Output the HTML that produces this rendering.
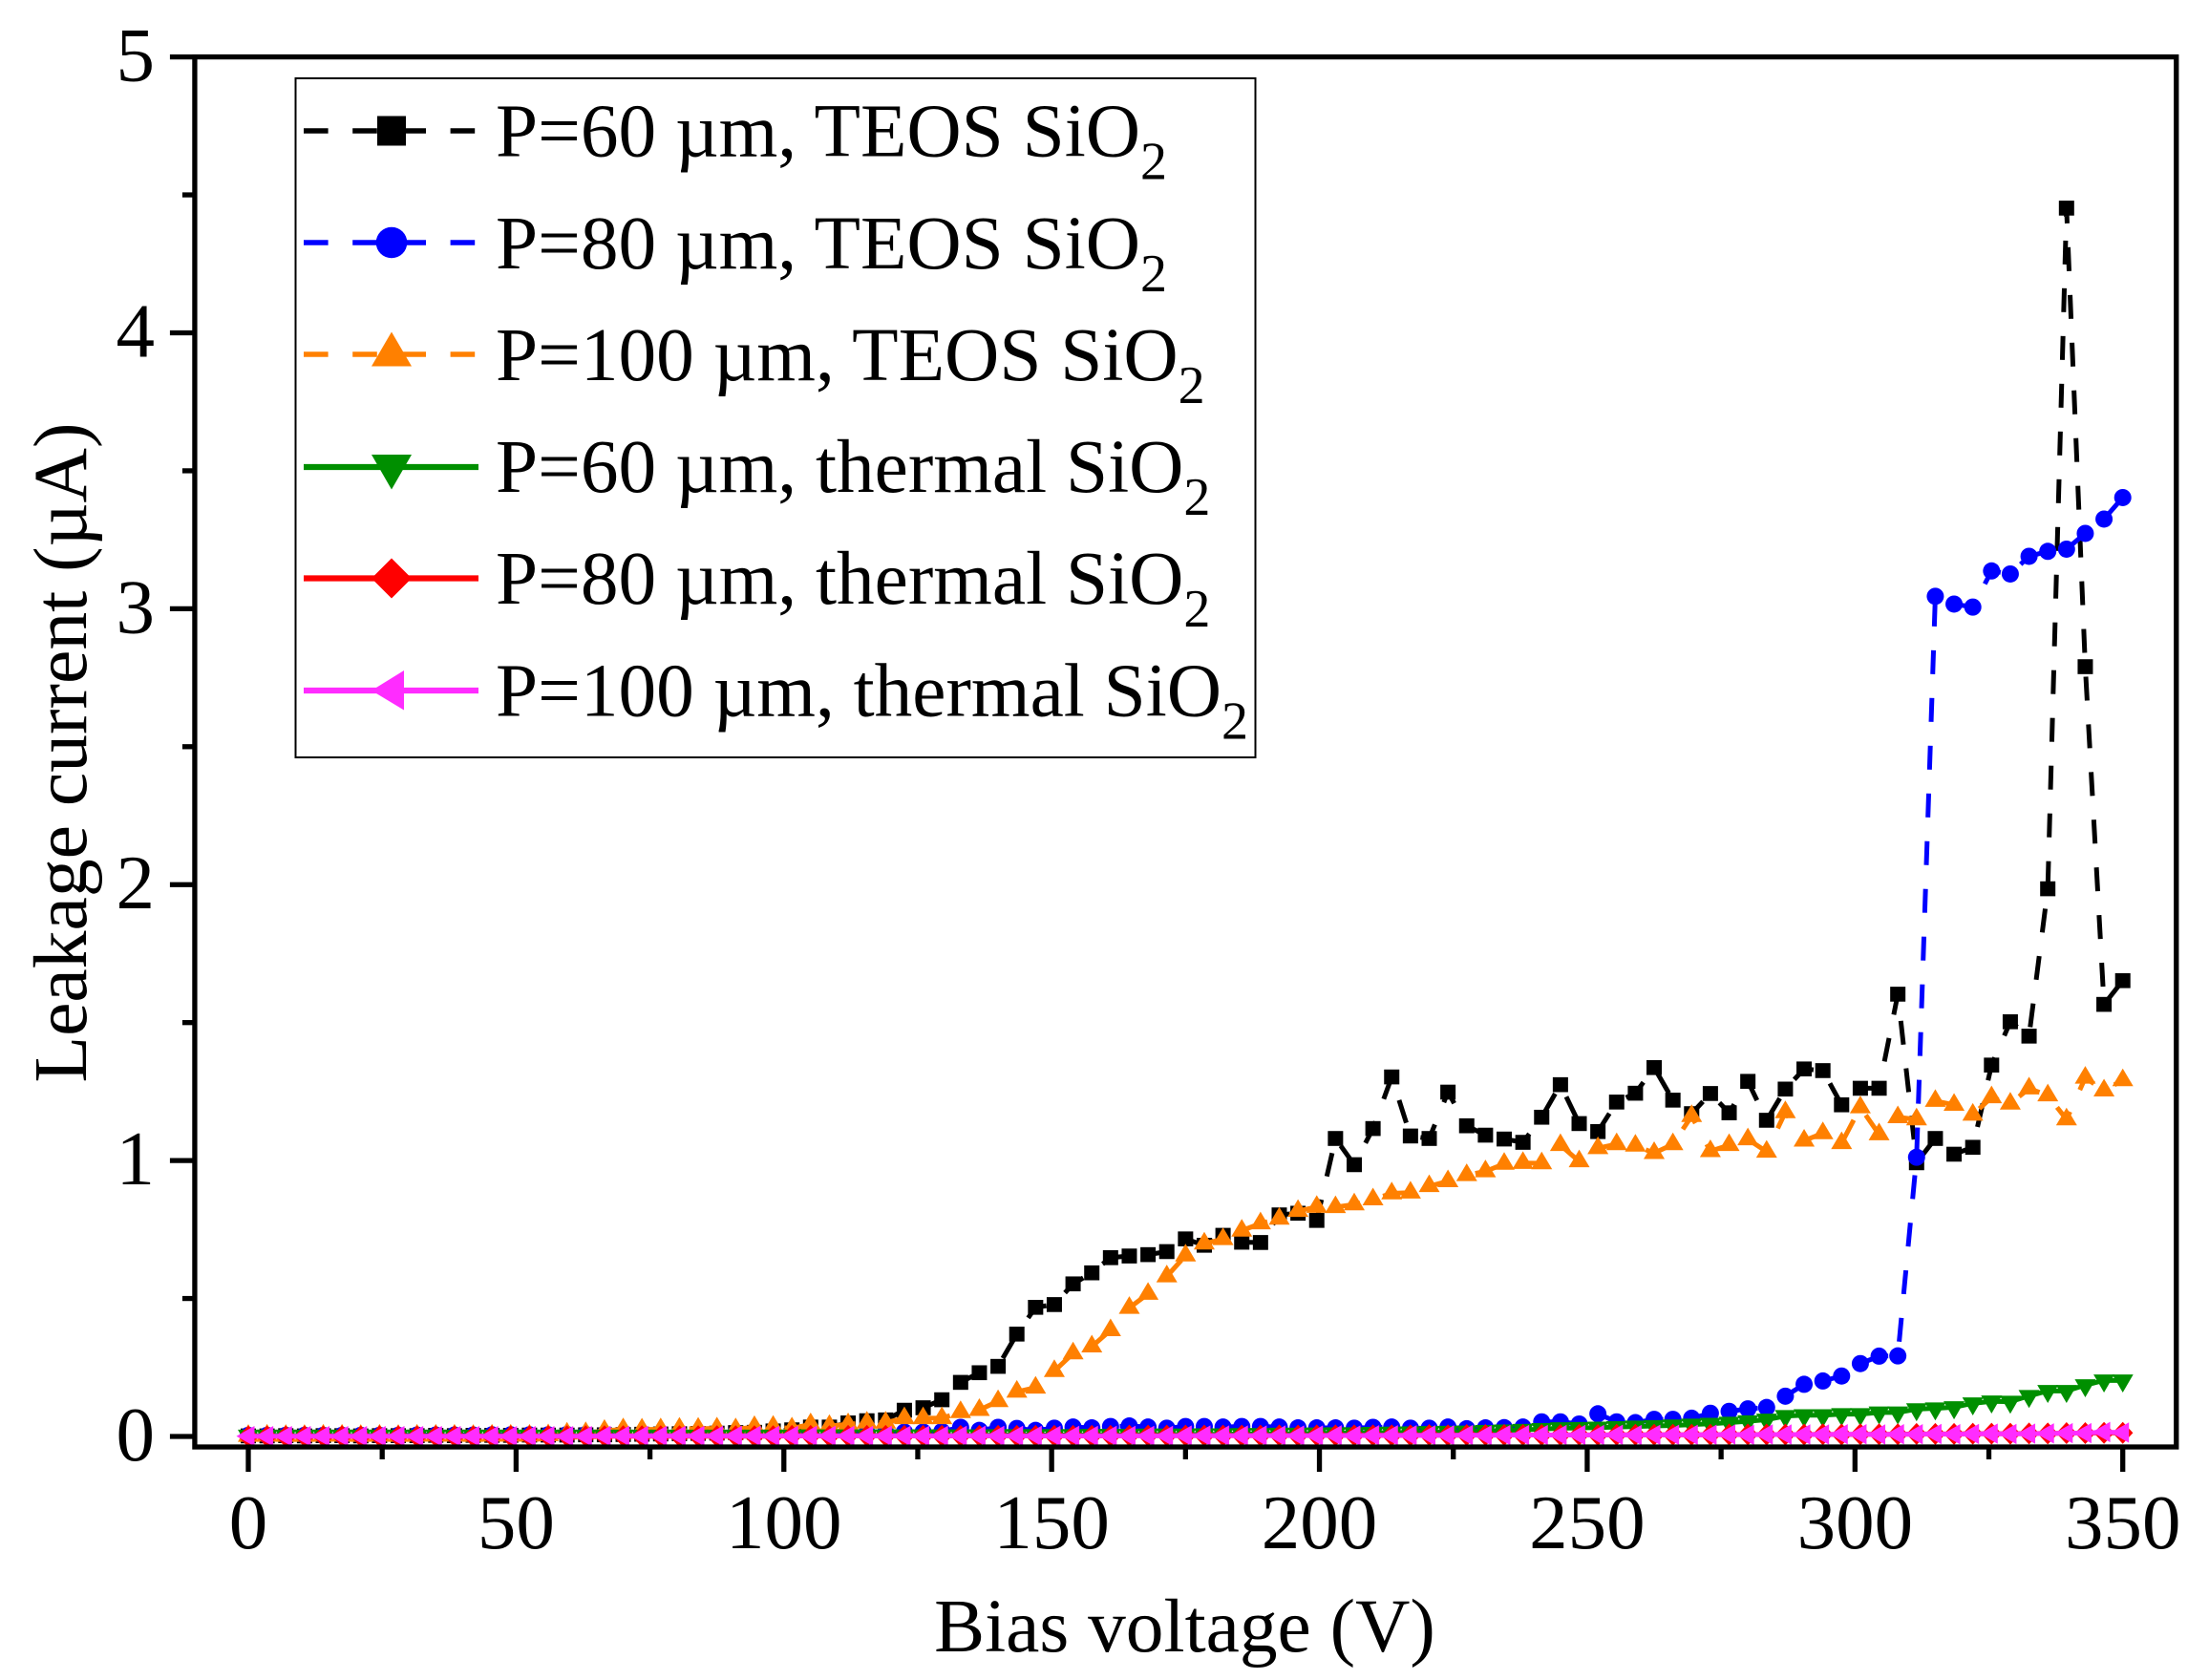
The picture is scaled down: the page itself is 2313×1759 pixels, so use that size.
<!DOCTYPE html>
<html lang="en">
<head>
<meta charset="utf-8">
<title>Leakage current vs bias voltage</title>
<style>
  html, body { margin: 0; padding: 0; background: #fff; }
  svg { display: block; }
  text { font-family: "Liberation Serif", "Times New Roman", serif; fill: #000; }
</style>
</head>
<body>
<svg id="chart" xmlns="http://www.w3.org/2000/svg" width="2313" height="1759" viewBox="0 0 2313 1759">
  <rect x="0" y="0" width="2313" height="1759" fill="#ffffff"/>
  <g id="series-layer"></g>
  <g id="axes-layer"></g>
  <text x="1240.5" y="1729" font-size="79.4" text-anchor="middle">Bias voltage (V)</text>
  <text transform="translate(90,788) rotate(-90)" font-size="79.6" text-anchor="middle">Leakage current (µA)</text>

  <g>
    <rect x="309.5" y="82" width="1005" height="711" fill="#ffffff" stroke="#000" stroke-width="2"/>

    <g>
      <line x1="318" y1="137" x2="501" y2="137" stroke="#000" stroke-width="5.5" stroke-dasharray="25.6 25.6"/>
      <rect x="395" y="121.5" width="30" height="31" fill="#000"/>
      <text x="519" y="163.7" font-size="79.3">P=60 µm, TEOS SiO<tspan font-size="56" dy="24">2</tspan></text>
    </g>
    <g>
      <line x1="318" y1="254" x2="501" y2="254" stroke="#0000ff" stroke-width="5.5" stroke-dasharray="25.6 25.6"/>
      <circle cx="410" cy="254" r="16.3" fill="#0000ff"/>
      <text x="519" y="280.9" font-size="79.3">P=80 µm, TEOS SiO<tspan font-size="56" dy="24">2</tspan></text>
    </g>
    <g>
      <line x1="318" y1="371" x2="501" y2="371" stroke="#ff8000" stroke-width="5.5" stroke-dasharray="25.6 25.6"/>
      <polygon points="410,347.5 431,383.5 389,383.5" fill="#ff8000"/>
      <text x="519" y="398" font-size="79.3">P=100 µm, TEOS SiO<tspan font-size="56" dy="24">2</tspan></text>
    </g>
    <g>
      <line x1="318" y1="489" x2="501" y2="489" stroke="#008f00" stroke-width="6.2"/>
      <polygon points="389,476 431,476 410,512.5" fill="#008f00"/>
      <text x="519" y="515" font-size="79.3">P=60 µm, thermal SiO<tspan font-size="56" dy="24">2</tspan></text>
    </g>
    <g>
      <line x1="318" y1="605.5" x2="501" y2="605.5" stroke="#ff0000" stroke-width="6.2"/>
      <polygon points="410,584.5 431,605.5 410,626.5 389,605.5" fill="#ff0000"/>
      <text x="519" y="632" font-size="79.3">P=80 µm, thermal SiO<tspan font-size="56" dy="24">2</tspan></text>
    </g>
    <g>
      <line x1="318" y1="723" x2="501" y2="723" stroke="#ff2cff" stroke-width="6.2"/>
      <polygon points="389,723 423,702 423,743.5" fill="#ff2cff"/>
      <text x="519" y="749.5" font-size="79.3">P=100 µm, thermal SiO<tspan font-size="56" dy="24">2</tspan></text>
    </g>
  </g>
</svg>

<script>
const voltages = [
  0, 3.5, 7, 10.5, 14, 17.5, 21, 24.5, 28, 31.5,
  35, 38.5, 42, 45.5, 49, 52.5, 56, 59.5, 63, 66.5,
  70, 73.5, 77, 80.5, 84, 87.5, 91, 94.5, 98, 101.5,
  105, 108.5, 112, 115.5, 119, 122.5, 126, 129.5, 133, 136.5,
  140, 143.5, 147, 150.5, 154, 157.5, 161, 164.5, 168, 171.5,
  175, 178.5, 182, 185.5, 189, 192.5, 196, 199.5, 203, 206.5,
  210, 213.5, 217, 220.5, 224, 227.5, 231, 234.5, 238, 241.5,
  245, 248.5, 252, 255.5, 259, 262.5, 266, 269.5, 273, 276.5,
  280, 283.5, 287, 290.5, 294, 297.5, 301, 304.5, 308, 311.5,
  315, 318.5, 322, 325.5, 329, 332.5, 336, 339.5, 343, 346.5,
  350
];

const p60Teos = [
  0.002, 0.002, 0.003, 0.002, 0.003, 0.003, 0.002, 0.003, 0.003, 0.003,
  0.004, 0.003, 0.004, 0.004, 0.004, 0.005, 0.005, 0.005, 0.006, 0.006,
  0.007, 0.008, 0.009, 0.010, 0.011, 0.012, 0.014, 0.015, 0.020, 0.024,
  0.034, 0.034, 0.049, 0.057, 0.060, 0.095, 0.104, 0.133, 0.196, 0.231,
  0.254, 0.371, 0.468, 0.478, 0.553, 0.593, 0.648, 0.654, 0.659, 0.670,
  0.716, 0.693, 0.729, 0.704, 0.703, 0.803, 0.809, 0.783, 1.080, 0.985,
  1.116, 1.303, 1.089, 1.080, 1.248, 1.126, 1.092, 1.078, 1.066, 1.157,
  1.275, 1.134, 1.105, 1.212, 1.244, 1.337, 1.219, 1.170, 1.243, 1.173,
  1.287, 1.146, 1.259, 1.332, 1.326, 1.202, 1.262, 1.262, 1.603, 0.992,
  1.080, 1.023, 1.048, 1.346, 1.503, 1.451, 1.985, 4.452, 2.790, 1.566,
  1.652
];

const p80Teos = [
  0.004, 0.004, 0.004, 0.004, 0.004, 0.004, 0.004, 0.004, 0.004, 0.005,
  0.005, 0.005, 0.005, 0.006, 0.006, 0.006, 0.006, 0.007, 0.007, 0.007,
  0.008, 0.008, 0.009, 0.009, 0.010, 0.010, 0.011, 0.011, 0.012, 0.012,
  0.012, 0.013, 0.013, 0.014, 0.015, 0.016, 0.016, 0.018, 0.033, 0.022,
  0.033, 0.029, 0.022, 0.030, 0.034, 0.031, 0.036, 0.038, 0.034, 0.030,
  0.036, 0.036, 0.034, 0.036, 0.036, 0.034, 0.031, 0.031, 0.031, 0.030,
  0.033, 0.034, 0.030, 0.030, 0.034, 0.028, 0.031, 0.032, 0.034, 0.053,
  0.053, 0.045, 0.082, 0.053, 0.050, 0.062, 0.062, 0.066, 0.084, 0.091,
  0.100, 0.105, 0.146, 0.189, 0.201, 0.219, 0.264, 0.291, 0.292, 1.012,
  3.045, 3.017, 3.006, 3.137, 3.126, 3.190, 3.208, 3.216, 3.273, 3.325,
  3.403
];

const p100Teos = [
  0.002, 0.003, 0.002, 0.002, 0.003, 0.003, 0.002, 0.003, 0.002, 0.003,
  0.003, 0.003, 0.002, 0.003, 0.003, 0.003, 0.004, 0.010, 0.012, 0.020,
  0.026, 0.025, 0.026, 0.028, 0.028, 0.029, 0.026, 0.034, 0.035, 0.029,
  0.044, 0.038, 0.044, 0.050, 0.050, 0.066, 0.066, 0.066, 0.088, 0.096,
  0.128, 0.162, 0.177, 0.237, 0.301, 0.326, 0.385, 0.466, 0.517, 0.580,
  0.656, 0.699, 0.715, 0.746, 0.772, 0.789, 0.817, 0.832, 0.831, 0.841,
  0.859, 0.881, 0.884, 0.907, 0.925, 0.947, 0.961, 0.988, 0.991, 0.990,
  1.056, 0.997, 1.045, 1.059, 1.054, 1.027, 1.059, 1.161, 1.034, 1.056,
  1.077, 1.032, 1.175, 1.072, 1.099, 1.063, 1.193, 1.095, 1.157, 1.149,
  1.216, 1.202, 1.166, 1.229, 1.206, 1.261, 1.236, 1.149, 1.300, 1.254,
  1.291
];

const p60Thermal = [
  0.003, 0.003, 0.003, 0.003, 0.003, 0.003, 0.003, 0.003, 0.003, 0.003,
  0.003, 0.003, 0.003, 0.003, 0.003, 0.003, 0.003, 0.003, 0.003, 0.003,
  0.003, 0.003, 0.003, 0.003, 0.003, 0.003, 0.003, 0.003, 0.003, 0.003,
  0.004, 0.004, 0.004, 0.004, 0.004, 0.004, 0.004, 0.004, 0.004, 0.004,
  0.005, 0.005, 0.005, 0.005, 0.005, 0.006, 0.006, 0.006, 0.007, 0.007,
  0.007, 0.008, 0.008, 0.009, 0.009, 0.010, 0.010, 0.011, 0.012, 0.012,
  0.013, 0.014, 0.015, 0.016, 0.017, 0.018, 0.020, 0.022, 0.024, 0.027,
  0.030, 0.031, 0.032, 0.034, 0.036, 0.038, 0.040, 0.043, 0.046, 0.050,
  0.055, 0.061, 0.074, 0.077, 0.077, 0.081, 0.081, 0.087, 0.087, 0.099,
  0.102, 0.106, 0.120, 0.127, 0.126, 0.147, 0.165, 0.165, 0.186, 0.203,
  0.203
];

const p80Thermal = [
  0.000, 0.000, 0.000, 0.001, 0.000, 0.001, 0.000, 0.001, 0.001, 0.000,
  0.001, 0.001, 0.000, 0.001, 0.001, 0.001, 0.001, 0.001, 0.001, 0.001,
  0.001, 0.001, 0.001, 0.001, 0.001, 0.001, 0.001, 0.001, 0.001, 0.002,
  0.002, 0.001, 0.002, 0.002, 0.002, 0.002, 0.002, 0.002, 0.002, 0.002,
  0.002, 0.002, 0.002, 0.002, 0.002, 0.002, 0.002, 0.003, 0.003, 0.003,
  0.003, 0.003, 0.003, 0.003, 0.003, 0.004, 0.003, 0.004, 0.004, 0.004,
  0.004, 0.004, 0.004, 0.005, 0.004, 0.005, 0.005, 0.005, 0.005, 0.005,
  0.005, 0.006, 0.005, 0.006, 0.006, 0.006, 0.006, 0.006, 0.006, 0.007,
  0.007, 0.007, 0.007, 0.007, 0.008, 0.007, 0.008, 0.008, 0.008, 0.009,
  0.009, 0.009, 0.010, 0.010, 0.010, 0.011, 0.011, 0.012, 0.012, 0.013,
  0.013
];

const p100Thermal = [
  0.001, 0.001, 0.001, 0.001, 0.001, 0.001, 0.001, 0.001, 0.001, 0.001,
  0.001, 0.001, 0.001, 0.001, 0.001, 0.001, 0.001, 0.001, 0.001, 0.002,
  0.002, 0.002, 0.002, 0.002, 0.002, 0.002, 0.002, 0.002, 0.002, 0.002,
  0.002, 0.002, 0.002, 0.002, 0.002, 0.002, 0.002, 0.002, 0.002, 0.002,
  0.002, 0.002, 0.002, 0.002, 0.002, 0.002, 0.002, 0.002, 0.002, 0.002,
  0.003, 0.003, 0.003, 0.003, 0.003, 0.003, 0.003, 0.003, 0.004, 0.003,
  0.004, 0.004, 0.004, 0.004, 0.004, 0.005, 0.004, 0.005, 0.005, 0.005,
  0.005, 0.005, 0.005, 0.006, 0.005, 0.006, 0.006, 0.006, 0.006, 0.007,
  0.006, 0.007, 0.007, 0.007, 0.007, 0.008, 0.008, 0.007, 0.008, 0.008,
  0.009, 0.008, 0.009, 0.010, 0.009, 0.010, 0.011, 0.012, 0.012, 0.016,
  0.014
];

const xMajorTicks = [0, 50, 100, 150, 200, 250, 300, 350];
const xMinorTicks = [25, 75, 125, 175, 225, 275, 325];
const yMajorTicks = [0, 1, 2, 3, 4, 5];
const yMinorTicks = [0.5, 1.5, 2.5, 3.5, 4.5];

const SVG_NS = 'http://www.w3.org/2000/svg';
const DASH_ON = 25;
const DASH_OFF = 25;

function xScale(v) { return 260 + (v / 350) * 1962.7; }
function yScale(v) { return 1504 - (v / 5) * 1444.4; }

function mk(tag, attrs, parent) {
  const el = document.createElementNS(SVG_NS, tag);
  for (const key in attrs) el.setAttribute(key, attrs[key]);
  parent.appendChild(el);
  return el;
}

const seriesLayer = document.getElementById('series-layer');
const axesLayer = document.getElementById('axes-layer');

function drawSquare(cx, cy, color, parent) {
  return mk('rect', { x: cx - 8, y: cy - 7.8, width: 16, height: 15.6, fill: color }, parent);
}
function drawCircle(cx, cy, color, parent) {
  return mk('circle', { cx: cx, cy: cy, r: 9, fill: color }, parent);
}
function drawUp(cx, cy, color, parent) {
  return mk('polygon', { points: cx + ',' + (cy - 12.3) + ' ' + (cx + 11) + ',' + (cy + 6.2) + ' ' + (cx - 11) + ',' + (cy + 6.2), fill: color }, parent);
}
function drawDown(cx, cy, color, parent) {
  return mk('polygon', { points: (cx - 11) + ',' + (cy - 6.2) + ' ' + (cx + 11) + ',' + (cy - 6.2) + ' ' + cx + ',' + (cy + 12.7), fill: color }, parent);
}
function drawDiamond(cx, cy, color, parent) {
  return mk('polygon', { points: cx + ',' + (cy - 11.5) + ' ' + (cx + 10.7) + ',' + cy + ' ' + cx + ',' + (cy + 11.5) + ' ' + (cx - 10.7) + ',' + cy, fill: color }, parent);
}
function drawLeft(cx, cy, color, parent) {
  return mk('polygon', { points: (cx - 12.5) + ',' + cy + ' ' + (cx + 6.5) + ',' + (cy - 10.7) + ' ' + (cx + 6.5) + ',' + (cy + 10.7), fill: color }, parent);
}

/* Dash phase: a dash begins `shift` px along the path after point `anchor`. */
function dashOffsetFor(values, anchor, shift) {
  let len = 0;
  for (let i = 1; i <= anchor; i++) {
    len += Math.hypot(xScale(voltages[i]) - xScale(voltages[i - 1]), yScale(values[i]) - yScale(values[i - 1]));
  }
  const period = DASH_ON + DASH_OFF;
  const start = len + shift;
  return period - (start % period);
}

function drawSeries(name, values, color, dashAnchor, dashShift, lineWidth, drawMarker) {
  const group = mk('g', {}, seriesLayer);
  
  

  const pts = values.map(function (v, i) { return xScale(voltages[i]).toFixed(2) + ',' + yScale(v).toFixed(2); }).join(' ');
  const line = mk('polyline', { points: pts, fill: 'none', stroke: color, 'stroke-width': lineWidth }, group);
  if (dashAnchor !== null) {
    line.setAttribute('stroke-dasharray', DASH_ON + ' ' + DASH_OFF);
    line.setAttribute('stroke-dashoffset', dashOffsetFor(values, dashAnchor, dashShift).toFixed(2));
  }
  
  

  values.forEach(function (v, i) {
    const marker = drawMarker(xScale(voltages[i]), yScale(v), color, group);
    
    
  });
}

drawSeries('p60-teos', p60Teos, '#000000', 97, -9, 5, drawSquare);
drawSeries('p80-teos', p80Teos, '#0000ff', 88, 15, 5, drawCircle);
drawSeries('p100-teos', p100Teos, '#ff8000', 86, 10, 5, drawUp);
drawSeries('p60-thermal', p60Thermal, '#008f00', null, 0, 5, drawDown);
drawSeries('p80-thermal', p80Thermal, '#ff0000', null, 0, 5, drawDiamond);
drawSeries('p100-thermal', p100Thermal, '#ff2cff', null, 0, 5, drawLeft);

const frame = mk('rect', {
  x: xScale(-10), y: yScale(5), width: xScale(360) - xScale(-10), height: 1515 - yScale(5),
  fill: 'none', stroke: '#000', 'stroke-width': 5.3
}, axesLayer);



const axisBottom = 1515;
const axisLeft = xScale(-10);

xMajorTicks.forEach(function (t) {
  const tick = mk('line', { x1: xScale(t), x2: xScale(t), y1: axisBottom, y2: axisBottom + 26, stroke: '#000', 'stroke-width': 5.3 }, axesLayer);
  
  
  const label = mk('text', { x: xScale(t), y: 1621, 'font-size': 81, 'text-anchor': 'middle' }, axesLayer);
  label.textContent = String(t);
  
  
});
xMinorTicks.forEach(function (t) {
  const tick = mk('line', { x1: xScale(t), x2: xScale(t), y1: axisBottom, y2: axisBottom + 13, stroke: '#000', 'stroke-width': 5.3 }, axesLayer);
  
  
});
yMajorTicks.forEach(function (t) {
  const tick = mk('line', { x1: axisLeft, x2: axisLeft - 26, y1: yScale(t), y2: yScale(t), stroke: '#000', 'stroke-width': 5.3 }, axesLayer);
  
  
  const label = mk('text', { x: 162, y: yScale(t) + 25, 'font-size': 81, 'text-anchor': 'end' }, axesLayer);
  label.textContent = String(t);
  
  
});
yMinorTicks.forEach(function (t) {
  const tick = mk('line', { x1: axisLeft, x2: axisLeft - 13, y1: yScale(t), y2: yScale(t), stroke: '#000', 'stroke-width': 5.3 }, axesLayer);
  
  
});
</script>
</body>
</html>
